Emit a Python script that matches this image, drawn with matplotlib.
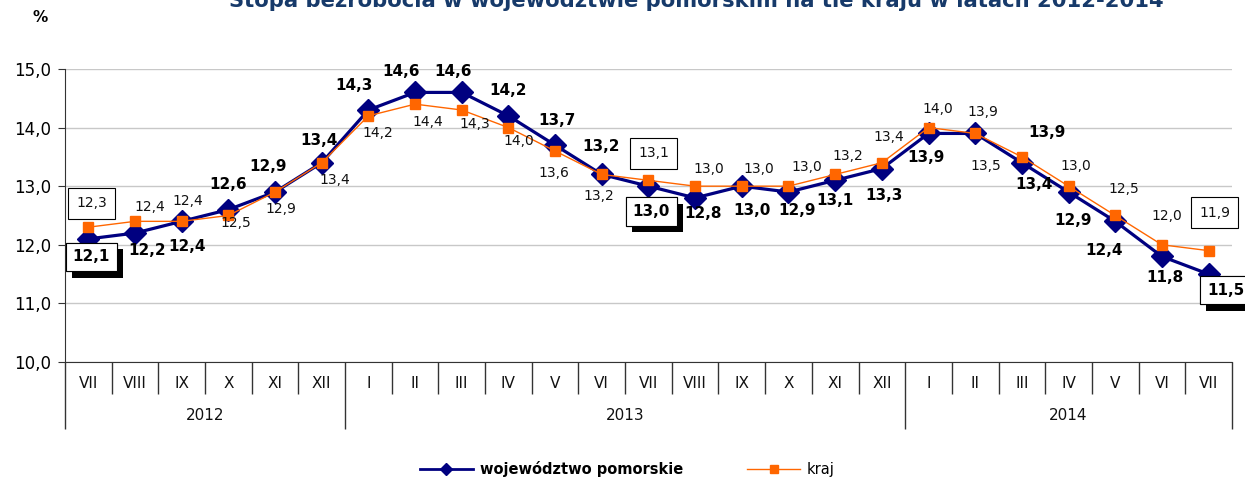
import matplotlib
matplotlib.use("Agg")
import matplotlib.pyplot as plt
import matplotlib.patheffects as pe
from matplotlib.lines import Line2D
from matplotlib.transforms import blended_transform_factory

months = ["VII", "VIII", "IX", "X", "XI", "XII",
          "I", "II", "III", "IV", "V", "VI", "VII", "VIII", "IX", "X", "XI", "XII",
          "I", "II", "III", "IV", "V", "VI", "VII"]
years = ["2012", "2013", "2014"]
year_spans = [(0, 5), (6, 17), (18, 24)]

pomorskie = [12.1, 12.2, 12.4, 12.6, 12.9, 13.4, 14.3, 14.6, 14.6, 14.2, 13.7, 13.2, 13.0,
             12.8, 13.0, 12.9, 13.1, 13.3, 13.9, 13.9, 13.4, 12.9, 12.4, 11.8, 11.5]
kraj = [12.3, 12.4, 12.4, 12.5, 12.9, 13.4, 14.2, 14.4, 14.3, 14.0, 13.6, 13.2, 13.1,
        13.0, 13.0, 13.0, 13.2, 13.4, 14.0, 13.9, 13.5, 13.0, 12.5, 12.0, 11.9]

# label offsets in pixels (dx right, dy down) as placed in the original
pom_off = [(3, 18), (12, 17), (5, 25), (0, -25), (-7, -26), (-3, -22), (-14, -24), (-14, -21),
           (-9, -21), (0, -25), (2, -25), (-1, -28), (3, 25), (8, 16), (10, 24), (9, 18),
           (0, 20), (2, 27), (-3, 24), (72, -1), (12, 22), (5, 28), (-11, 29), (3, 21), (17, 16)]
kraj_off = [(3, -24), (15, -14), (6, -20), (7, 8), (6, 17), (13, 17), (9, 17), (13, 18),
            (13, 14), (10, 13), (-1, 22), (-3, 22), (5, -27), (14, -17), (17, -17), (18, -19),
            (13, -18), (7, -26), (9, -19), (8, -21), (-36, 9), (7, -20), (9, -26), (5, -29), (6, -38)]
boxed = [0, 12, 24]

NAVY = "#000080"
ORANGE = "#ff6600"


def fmt(v):
    return f"{v:.1f}".replace(".", ",")


fig = plt.figure(figsize=(12.45, 4.79), dpi=100)
ax = fig.add_axes([0.0522, 0.2443, 0.9373, 0.6117])

x = list(range(len(months)))
ax.plot(x, pomorskie, color=NAVY, lw=2.3, marker="D", ms=11, zorder=3)
ax.plot(x, kraj, color=ORANGE, lw=1.0, marker="s", ms=7.5, zorder=4)

ax.set_xlim(-0.5, len(months) - 0.5)
ax.set_ylim(10, 15)
ax.set_yticks([10, 11, 12, 13, 14, 15])
ax.set_yticklabels([fmt(v) for v in [10, 11, 12, 13, 14, 15]], fontsize=12)
ax.grid(axis="y", color="#c8c8c8", lw=1)
ax.set_axisbelow(True)
for s in ["top", "right"]:
    ax.spines[s].set_visible(False)
ax.spines["left"].set_color("#333333")
ax.spines["bottom"].set_color("#333333")
ax.tick_params(axis="y", length=5, color="#333333", pad=5)

# category axis: month separators and year separators
year_bounds = [-0.5, 5.5, 17.5, 24.5]
month_bounds = [b + 0.5 for b in range(len(months) - 1) if b + 0.5 not in year_bounds]
ax.set_xticks(year_bounds)
ax.set_xticks(month_bounds, minor=True)
ax.set_xticklabels([])
ax.tick_params(axis="x", which="major", length=48, width=1, color="#333333")
ax.tick_params(axis="x", which="minor", length=23, width=1, color="#333333")

tr = blended_transform_factory(ax.transData, ax.transAxes)
for i, m in enumerate(months):
    ax.text(i, -0.072, m, transform=tr, ha="center", va="center", fontsize=11, color="#111111")
for (a, b), y in zip(year_spans, years):
    ax.text((a + b) / 2, -0.184, y, transform=tr, ha="center", va="center", fontsize=11, color="#111111")

# data labels
for i, v in enumerate(pomorskie):
    dx, dy = pom_off[i]
    t = ax.annotate(fmt(v), (i, v), xytext=(dx * 0.72, -dy * 0.72), textcoords="offset points",
                    ha="center", va="center", fontsize=11, fontweight="bold", zorder=6,
                    annotation_clip=False)
    if i in boxed:
        t.set_bbox(dict(boxstyle="square,pad=0.45", fc="white", ec="black", lw=0.8))
        t.get_bbox_patch().set_path_effects(
            [pe.withSimplePatchShadow(offset=(4.5, -5), shadow_rgbFace="black", alpha=1.0), pe.Normal()])

for i, v in enumerate(kraj):
    dx, dy = kraj_off[i]
    t = ax.annotate(fmt(v), (i, v), xytext=(dx * 0.72, -dy * 0.72), textcoords="offset points",
                    ha="center", va="center", fontsize=10, color="#111111", zorder=6,
                    annotation_clip=False)
    if i in boxed:
        t.set_bbox(dict(boxstyle="square,pad=0.6", fc="white", ec="black", lw=0.8))

fig.text(0.5594, 1 - 7 / 479, "Stopa bezrobocia w województwie pomorskim na tle kraju w latach 2012-2014",
         ha="center", va="baseline", fontsize=15.2, fontweight="bold", color="#173a6a")
fig.text(0.032, 1 - 18 / 479, "%", ha="center", va="center", fontsize=11, fontweight="bold")

handles = [Line2D([], [], color=NAVY, lw=2, marker="D", ms=6),
           Line2D([], [], color=ORANGE, lw=1, marker="s", ms=6)]
leg = fig.legend(handles, ["województwo pomorskie", "kraj"], loc="center", bbox_to_anchor=(0.504, 0.02),
                 ncol=2, frameon=False, fontsize=10.5, handlelength=3.6, columnspacing=4.4, handletextpad=0.5)
leg.get_texts()[0].set_fontweight("bold")

fig.savefig("out.png", dpi=100)
